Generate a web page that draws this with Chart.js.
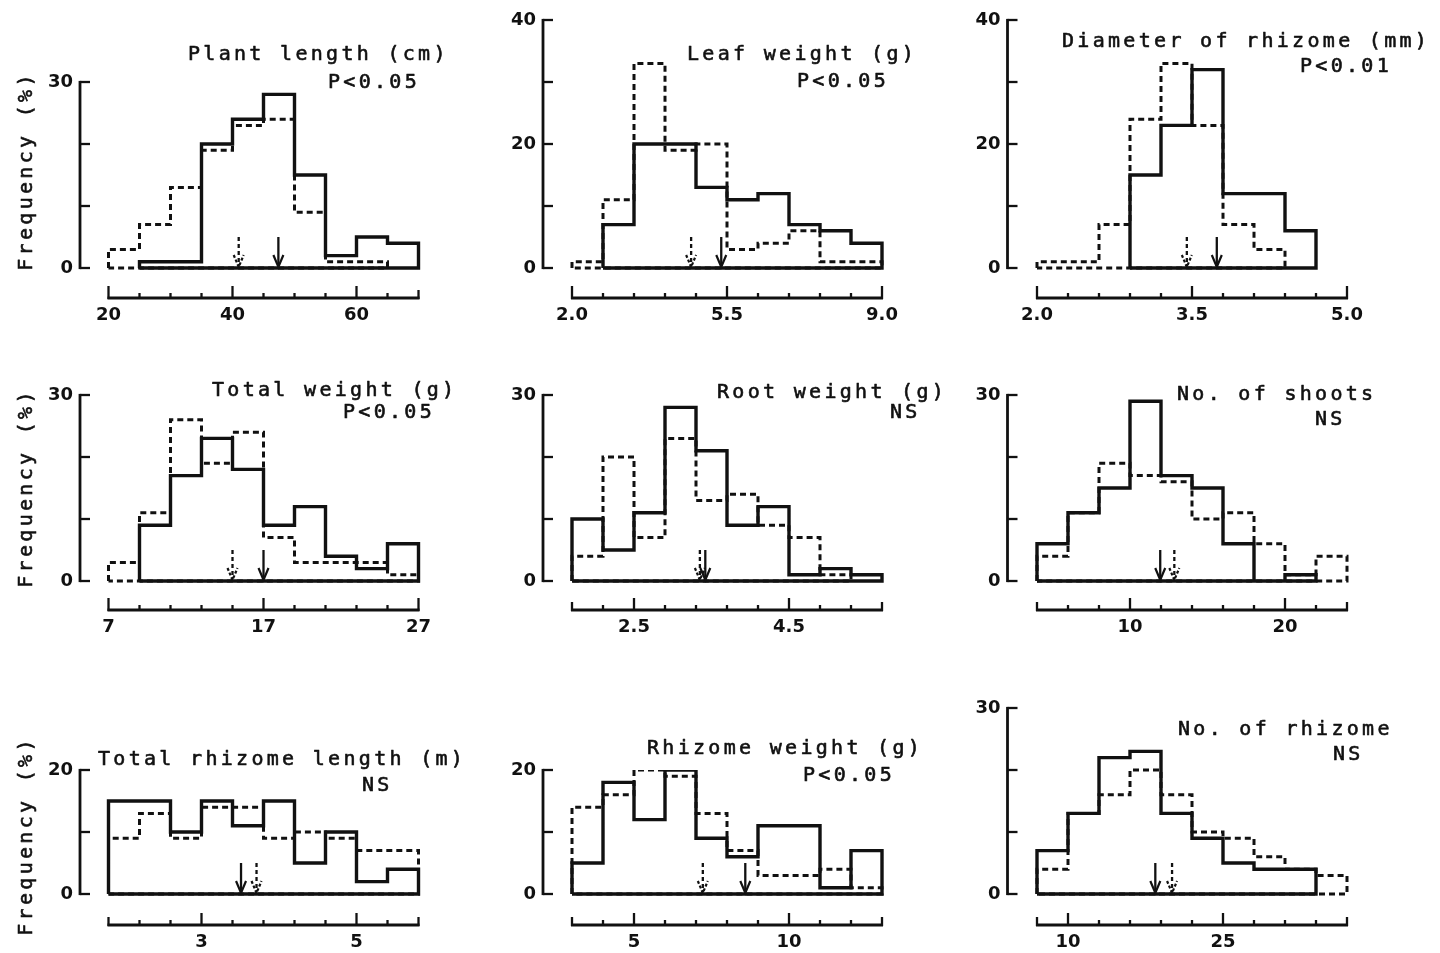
<!DOCTYPE html>
<html><head><meta charset="utf-8">
<script src="https://cdn.jsdelivr.net/npm/chart.js@4.4.1/dist/chart.umd.min.js"></script>
<style>
html,body{margin:0;padding:0;background:#fff;width:1440px;height:953px;overflow:hidden;position:relative}
canvas{position:absolute}
</style></head><body>
<script>
// ---------------- DATA ----------------
// Each panel: bin edges, solid-line histogram, dashed-line histogram (% frequency),
// means [solid, dashed] (arrows), x tick labels, y ticks and labelled y ticks.
const plantLengthBins   = [20,25,30,35,40,45,50,55,60,65,70];
const plantLengthSolid  = [0,1,1,20,24,28,15,2,5,4];
const plantLengthDashed = [3,7,13,19,23,24,9,1,1,0];
const plantLengthMeans  = [47.4, 41.0];
const plantLengthTicks  = ['20','40','60'];

const leafWeightBins   = [2.0,2.7,3.4,4.1,4.8,5.5,6.2,6.9,7.6,8.3,9.0];
const leafWeightSolid  = [0,7,20,20,13,11,12,7,6,4];
const leafWeightDashed = [1,11,33,19,20,3,4,6,1,1];
const leafWeightMeans  = [5.37, 4.69];
const leafWeightTicks  = ['2.0','5.5','9.0'];

const diameterBins   = [2.0,2.3,2.6,2.9,3.2,3.5,3.8,4.1,4.4,4.7,5.0];
const diameterSolid  = [0,0,0,15,23,32,12,12,6,0];
const diameterDashed = [1,1,7,24,33,23,7,3,0,0];
const diameterMeans  = [3.74, 3.45];
const diameterTicks  = ['2.0','3.5','5.0'];

const totalWeightBins   = [7,9,11,13,15,17,19,21,23,25,27];
const totalWeightSolid  = [0,9,17,23,18,9,12,4,2,6];
const totalWeightDashed = [3,11,26,19,24,7,3,3,3,1];
const totalWeightMeans  = [17.0, 15.0];
const totalWeightTicks  = ['7','17','27'];

const rootWeightBins   = [1.7,2.1,2.5,2.9,3.3,3.7,4.1,4.5,4.9,5.3,5.7];
const rootWeightSolid  = [10,5,11,28,21,9,12,1,2,1];
const rootWeightDashed = [4,20,7,23,13,14,9,7,1,0];
const rootWeightMeans  = [3.42, 3.35];
const rootWeightTicks  = ['2.5','4.5'];

const shootsBins   = [4,6,8,10,12,14,16,18,20,22,24];
const shootsSolid  = [6,11,15,29,17,15,6,0,1,0];
const shootsDashed = [4,11,19,17,16,10,11,6,1,4];
const shootsMeans  = [11.95, 12.86];
const shootsTicks  = ['10','20'];

const rhizomeLengthBins   = [1.8,2.2,2.6,3.0,3.4,3.8,4.2,4.6,5.0,5.4,5.8];
const rhizomeLengthSolid  = [15,15,10,15,11,15,5,10,2,4];
const rhizomeLengthDashed = [9,13,9,14,14,9,10,9,7,7];
const rhizomeLengthMeans  = [3.51, 3.71];
const rhizomeLengthTicks  = ['3','5'];

const rhizomeWeightBins   = [3,4,5,6,7,8,9,10,11,12,13];
const rhizomeWeightSolid  = [5,18,12,20,9,6,11,11,1,7];
const rhizomeWeightDashed = [14,16,20,19,13,7,3,3,4,1];
const rhizomeWeightMeans  = [8.59, 7.22];
const rhizomeWeightTicks  = ['5','10'];

const rhizomeNoBins   = [7,10,13,16,19,22,25,28,31,34,37];
const rhizomeNoSolid  = [7,13,22,23,13,9,5,4,4,0];
const rhizomeNoDashed = [4,13,16,20,16,10,9,6,4,3];
const rhizomeNoMeans  = [18.45, 20.07];
const rhizomeNoTicks  = ['10','25'];

const yTicks30 = [0,10,20,30];  const yLabels30 = [0,30];
const yTicks40 = [0,10,20,30,40]; const yLabels40 = [0,20,40];
const yTicks20 = [0,10,20];     const yLabels20 = [0,20];

const titles = ['Plant length (cm)','Leaf weight (g)','Diameter of rhizome (mm)',
                'Total weight (g)','Root weight (g)','No. of shoots',
                'Total rhizome length (m)','Rhizome weight (g)','No. of rhizome'];
const stats  = ['P<0.05','P<0.05','P<0.01','P<0.05','NS','NS','NS','P<0.05','NS'];
const yAxisTitle = 'Frequency (%)';

// ---------------- LAYOUT / STYLE ----------------
const INK = '#111';
const UNIT = 6.2;              // px per % on every y axis
const YW = 60, XH = 30;
const COLS = [
  {left:0,   width:490, axisX:80,     x0:108.5, x1:418.5},
  {left:470, width:500, axisX:543,    x0:572,   x1:882},
  {left:945, width:495, axisX:1007.5, x0:1037,  x1:1347}
];
const ROWS = [
  {top:0,   height:330, baseY:268, axisY:298, freqY:171},
  {top:320, height:330, baseY:581, axisY:610, freqY:488},
  {top:640, height:320, baseY:894, axisY:925, freqY:836}
];
const TITLE_POS = [[188,55],[687,55],[1062,42],[212,391],[717,393],[1177,395],[98,760],[647,749],[1178,730]];
const STAT_POS  = [[328,83],[797,82],[1300,67],[343,413],[890,413],[1315,420],[362,786],[803,776],[1333,755]];
const TICK_FONT = {family:'"DejaVu Sans"', weight:'bold', size:18, lineHeight:1.2};
const TEXT_FONT = '20px "DejaVu Sans Mono"';

const panels = [
  {edges:plantLengthBins, solid:plantLengthSolid, dashed:plantLengthDashed, means:plantLengthMeans, xLabels:plantLengthTicks, yTicks:yTicks30, yLabels:yLabels30},
  {edges:leafWeightBins, solid:leafWeightSolid, dashed:leafWeightDashed, means:leafWeightMeans, xLabels:leafWeightTicks, yTicks:yTicks40, yLabels:yLabels40},
  {edges:diameterBins, solid:diameterSolid, dashed:diameterDashed, means:diameterMeans, xLabels:diameterTicks, yTicks:yTicks40, yLabels:yLabels40},
  {edges:totalWeightBins, solid:totalWeightSolid, dashed:totalWeightDashed, means:totalWeightMeans, xLabels:totalWeightTicks, yTicks:yTicks30, yLabels:yLabels30},
  {edges:rootWeightBins, solid:rootWeightSolid, dashed:rootWeightDashed, means:rootWeightMeans, xLabels:rootWeightTicks, yTicks:yTicks30, yLabels:yLabels30},
  {edges:shootsBins, solid:shootsSolid, dashed:shootsDashed, means:shootsMeans, xLabels:shootsTicks, yTicks:yTicks30, yLabels:yLabels30},
  {edges:rhizomeLengthBins, solid:rhizomeLengthSolid, dashed:rhizomeLengthDashed, means:rhizomeLengthMeans, xLabels:rhizomeLengthTicks, yTicks:yTicks20, yLabels:yLabels20},
  {edges:rhizomeWeightBins, solid:rhizomeWeightSolid, dashed:rhizomeWeightDashed, means:rhizomeWeightMeans, xLabels:rhizomeWeightTicks, yTicks:yTicks20, yLabels:yLabels20},
  {edges:rhizomeNoBins, solid:rhizomeNoSolid, dashed:rhizomeNoDashed, means:rhizomeNoMeans, xLabels:rhizomeNoTicks, yTicks:yTicks30, yLabels:yLabels30}
];

// histogram outline (closed, along the base) from bin edges and values
function outline(edges, vals) {
  let a = 0, b = vals.length - 1;
  while (a <= b && vals[a] === 0) a++;
  while (b >= a && vals[b] === 0) b--;
  const pts = [{x: edges[a], y: 0}];
  for (let i = a; i <= b; i++) pts.push({x: edges[i], y: vals[i]});
  pts.push({x: edges[b + 1], y: 0});
  pts.push({x: edges[a], y: 0});
  return pts;
}

function drawArrow(ctx, x, y0, dashed) {
  const len = 31;
  ctx.lineWidth = 2.3;
  ctx.setLineDash(dashed ? [4, 3] : []);
  ctx.beginPath(); ctx.moveTo(x, y0 - len); ctx.lineTo(x, y0 - 2); ctx.stroke();
  ctx.setLineDash(dashed ? [3, 2] : []);
  ctx.lineWidth = 2.2;
  ctx.beginPath(); ctx.moveTo(x - 5, y0 - 13); ctx.lineTo(x, y0 - 1); ctx.lineTo(x + 5, y0 - 13); ctx.stroke();
  ctx.setLineDash([]);
}

function makeFrame(p, idx, col, row) {
  return {
    id: 'frame' + idx,
    afterDraw(chart) {
      const ctx = chart.ctx, xs = chart.scales.x, ys = chart.scales.y, ca = chart.chartArea;
      ctx.save();
      ctx.strokeStyle = INK; ctx.fillStyle = INK; ctx.lineCap = 'butt';
      // y axis (0 .. top tick), ticks pointing inward
      const y0 = ys.getPixelForValue(0);
      const yT = ys.getPixelForValue(p.yTicks[p.yTicks.length - 1]);
      const ax = ca.left;
      ctx.lineWidth = 2.8;
      ctx.beginPath(); ctx.moveTo(ax, y0 + 1.1); ctx.lineTo(ax, yT - 1.1); ctx.stroke();
      ctx.lineWidth = 2.3;
      p.yTicks.forEach(v => { const y = ys.getPixelForValue(v); ctx.beginPath(); ctx.moveTo(ax, y); ctx.lineTo(ax + 10, y); ctx.stroke(); });
      // detached x axis with upward ticks at bin edges
      const by = ca.bottom;
      const xl = xs.getPixelForValue(p.edges[0]), xr = xs.getPixelForValue(p.edges[p.edges.length - 1]);
      ctx.lineWidth = 3;
      ctx.beginPath(); ctx.moveTo(xl - 1, by); ctx.lineTo(xr + 1, by); ctx.stroke();
      ctx.lineWidth = 2.3;
      const labVals = p.xLabels.map(Number);
      p.edges.forEach((v, i) => {
        const x = xs.getPixelForValue(v);
        const lab = labVals.some(l => Math.abs(l - v) < 1e-6);
        const end = i === 0 || i === p.edges.length - 1;
        const len = lab ? 12 : (end ? 8 : 5);
        ctx.beginPath(); ctx.moveTo(x, by + 1); ctx.lineTo(x, by - len); ctx.stroke();
      });
      // mean arrows
      drawArrow(ctx, xs.getPixelForValue(p.means[1]), y0, true);
      drawArrow(ctx, xs.getPixelForValue(p.means[0]), y0, false);
      // texts
      ctx.font = TEXT_FONT;
      ctx.letterSpacing = '3.3px';
      ctx.textBaseline = 'middle'; ctx.textAlign = 'left';
      ctx.lineWidth = 0.6; ctx.lineJoin = 'round';
      const put = (s, x, y) => { ctx.fillText(s, x, y); ctx.strokeText(s, x, y); };
      put(titles[idx], TITLE_POS[idx][0] - col.left, TITLE_POS[idx][1] - row.top);
      put(stats[idx], STAT_POS[idx][0] - col.left, STAT_POS[idx][1] - row.top);
      if (idx % 3 === 0) {
        ctx.save();
        ctx.translate(27 - col.left, row.freqY - row.top);
        ctx.rotate(-Math.PI / 2);
        ctx.textAlign = 'center';
        put(yAxisTitle, 0, 0);
        ctx.restore();
      }
      ctx.restore();
    }
  };
}

panels.forEach((p, idx) => {
  const col = COLS[idx % 3], row = ROWS[Math.floor(idx / 3)];
  const canvas = document.createElement('canvas');
  canvas.width = col.width; canvas.height = row.height;
  Object.assign(canvas.style, {left: col.left + 'px', top: row.top + 'px', width: col.width + 'px', height: row.height + 'px'});
  document.body.appendChild(canvas);

  const first = p.edges[0], last = p.edges[p.edges.length - 1];
  const unitX = (col.x1 - col.x0) / (last - first);
  const xMin = first - (col.x0 - col.axisX) / unitX;
  const xMax = last + 20 / unitX;
  const yTop = p.yTicks[p.yTicks.length - 1];
  const yMin = -(row.axisY - row.baseY) / UNIT;
  const chartTop = row.baseY - yTop * UNIT;

  new Chart(canvas, {
    type: 'line',
    data: {
      datasets: [
        {data: outline(p.edges, p.solid), borderColor: INK, borderWidth: 3.4, stepped: true,
         pointRadius: 0, fill: false, borderJoinStyle: 'miter'},
        {data: outline(p.edges, p.dashed), borderColor: INK, borderWidth: 3, borderDash: [6, 4], stepped: true,
         pointRadius: 0, fill: false, borderJoinStyle: 'miter'}
      ]
    },
    options: {
      responsive: false, animation: false, events: [], devicePixelRatio: 1,
      layout: {padding: {
        left: col.axisX - col.left - YW,
        top: chartTop - row.top,
        right: (col.left + col.width) - (col.x1 + 20),
        bottom: (row.top + row.height) - row.axisY - XH
      }},
      plugins: {legend: {display: false}, tooltip: {enabled: false}, title: {display: false}},
      scales: {
        x: {
          type: 'linear', min: xMin, max: xMax,
          afterFit(s) { s.height = XH; },
          afterBuildTicks(s) { s.ticks = p.xLabels.map(t => ({value: Number(t)})); },
          ticks: {autoSkip: false, maxRotation: 0, minRotation: 0, padding: 7, color: INK, font: TICK_FONT,
                  callback: (v, i) => p.xLabels[i]},
          grid: {display: false, drawTicks: false}, border: {display: false}
        },
        y: {
          type: 'linear', min: yMin, max: yTop,
          afterFit(s) { s.width = YW; },
          afterBuildTicks(s) { s.ticks = p.yTicks.map(v => ({value: v})); },
          ticks: {autoSkip: false, padding: 7, color: INK, font: TICK_FONT,
                  callback: (v) => p.yLabels.includes(v) ? String(v) : ''},
          grid: {display: false, drawTicks: false}, border: {display: false}
        }
      }
    },
    plugins: [makeFrame(p, idx, col, row)]
  });
});
</script>
</body></html>
